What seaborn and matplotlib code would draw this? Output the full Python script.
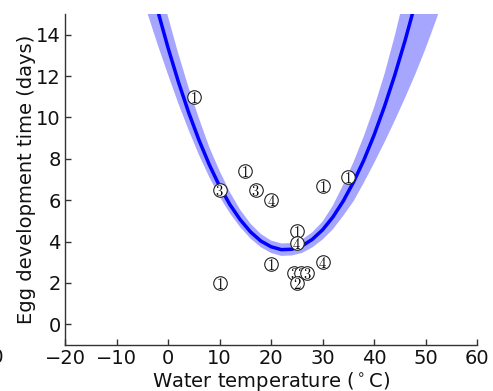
import matplotlib
matplotlib.use("Agg")
import matplotlib.pyplot as plt
import seaborn as sns
import pandas as pd

# Observations: water temperature, egg development time, study label
temps = [5, 10, 10, 15, 17, 20, 20, 30, 35, 30, 25, 25, 24.5, 25.8, 27.0, 25]
days = [11.0, 2.0, 6.5, 7.4, 6.5, 6.0, 2.9, 6.7, 7.1, 3.0, 4.5, 3.95, 2.5, 2.5, 2.5, 2.0]
labels = ["1", "1", "3", "1", "3", "4", "1", "1", "1", "4", "1", "4", "3", "3", "3", "2"]

# Fitted development-time curve and its uncertainty band
fit_temp = [-6, -4, -2, 0, 2, 4, 6, 8, 10, 12, 14, 16, 18, 20, 22, 24, 26, 28,
            30, 32, 34, 36, 38, 40, 42, 44, 46, 48, 50, 52, 54]
fit_days = [19.19, 17.10, 15.16, 13.37, 11.73, 10.24, 8.91, 7.72, 6.68, 5.79,
            5.06, 4.47, 4.03, 3.75, 3.61, 3.63, 3.79, 4.11, 4.57, 5.19, 5.96,
            6.88, 7.94, 9.16, 10.53, 12.05, 13.72, 15.54, 17.51, 19.63, 21.90]
fit_upper = [21.20, 18.95, 16.83, 14.87, 13.08, 11.44, 9.96, 8.57, 7.42, 6.39,
             5.54, 4.87, 4.37, 4.05, 3.91, 3.93, 4.10, 4.45, 4.97, 5.75, 6.75,
             7.85, 9.10, 10.50, 12.10, 13.95, 16.00, 18.15, 20.40, 22.60, 24.90]
fit_lower = [16.69, 15.04, 13.51, 12.07, 10.68, 9.39, 8.19, 7.12, 6.18, 5.37,
             4.70, 4.15, 3.73, 3.45, 3.31, 3.33, 3.45, 3.72, 4.10, 4.60, 5.25,
             5.95, 6.85, 7.80, 8.80, 9.85, 10.95, 12.10, 13.35, 14.70, 16.15]

x_ticks = [-20, -10, 0, 10, 20, 30, 40, 50, 60]
y_ticks = [0, 2, 4, 6, 8, 10, 12, 14]

sns.set_theme(style="ticks")
plt.rcParams.update({
    "font.family": ["DejaVu Sans"],
    "mathtext.fontset": "cm",
    "xtick.direction": "in",
    "ytick.direction": "in",
    "axes.edgecolor": "#333333",
    "axes.linewidth": 1.0,
    "text.color": "#111111",
    "axes.labelcolor": "#111111",
    "xtick.labelcolor": "#111111",
    "ytick.labelcolor": "#111111",
})

fig = plt.figure(figsize=(4.93, 3.91), dpi=100)
ax = fig.add_axes([0.1318, 0.1176, 0.968 - 0.1318, 0.964 - 0.1176])

fit = pd.DataFrame({"temp": fit_temp, "days": fit_days,
                    "lo": fit_lower, "hi": fit_upper})
obs = pd.DataFrame({"temp": temps, "days": days, "label": labels})

ax.fill_between(fit["temp"], fit["lo"], fit["hi"], color="blue",
                alpha=0.35, linewidth=0, zorder=1)
sns.lineplot(data=fit, x="temp", y="days", ax=ax, color="#0000ff",
             linewidth=2.5, zorder=2, sort=False)

for i, row in obs.iterrows():
    ax.scatter(row["temp"], row["days"], s=95, facecolor="white",
               edgecolor="#222222", linewidth=0.8, zorder=3 + 2 * i)
    ax.text(row["temp"], row["days"], "$\\mathbf{" + row["label"] + "}$",
            ha="center", va="center_baseline", fontsize=10.5,
            color="black", zorder=4 + 2 * i)

ax.set_xlim(-20, 60)
ax.set_ylim(-1, 15)
ax.set_xticks(x_ticks)
ax.set_yticks(y_ticks)
ax.tick_params(axis="both", labelsize=14, length=4, width=1,
               color="#333333", pad=3)
ax.set_xlabel("Water temperature ($^\\circ$C)", fontsize=14, labelpad=1,
              math_fontfamily="dejavusans")
ax.set_ylabel("Egg development time (days)", fontsize=14, labelpad=0)
sns.despine(ax=ax)

# Edge of the neighbouring panel's axis label
fig.text(0.009, 0.0865, "60", ha="right", va="center", fontsize=14)

fig.savefig("out.png", dpi=100)
